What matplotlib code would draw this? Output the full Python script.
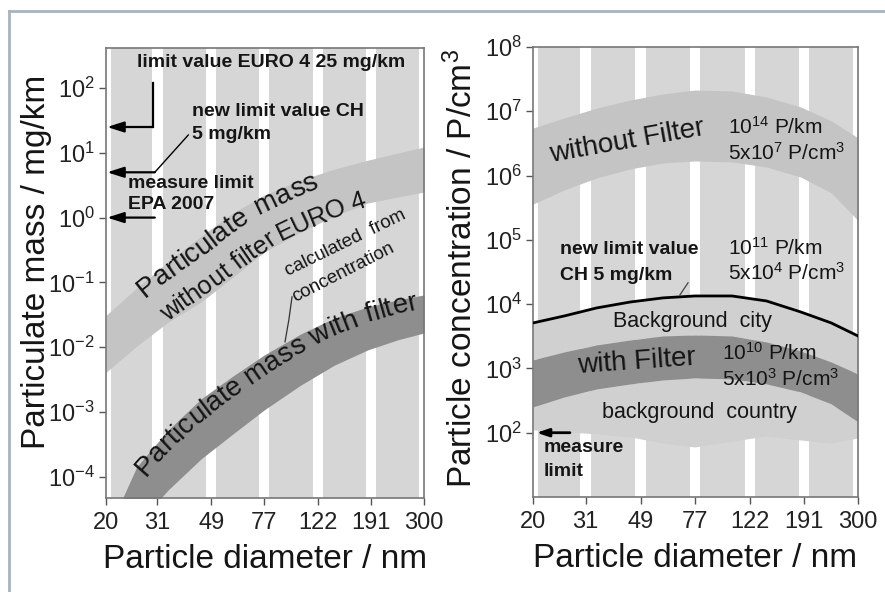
import numpy as np
import matplotlib
matplotlib.use('Agg')
import matplotlib.pyplot as plt
from matplotlib.lines import Line2D
from matplotlib.ticker import NullLocator
from matplotlib.font_manager import FontProperties

plt.rcParams['font.family'] = ['Liberation Sans', 'DejaVu Sans']
plt.rcParams['mathtext.fontset'] = 'custom'
plt.rcParams['mathtext.rm'] = 'Liberation Sans'
plt.rcParams['mathtext.it'] = 'Liberation Sans:italic'
plt.rcParams['mathtext.bf'] = 'Liberation Sans:bold'

# particle diameter (nm)
diam_ticks = [20, 31, 49, 77, 122, 191, 300]
diam = [20, 26, 34, 45, 59, 77, 105, 140, 186, 240, 300]

# left panel: particulate mass, mg/km
mass_nofilter_hi = [0.031, 0.082, 0.21, 0.52, 1.18, 2.23, 3.8, 5.6, 7.7, 9.9, 12.3]
mass_nofilter_lo = [0.0041, 0.0104, 0.0245, 0.050, 0.121, 0.294, 0.60, 1.06, 1.68, 2.08, 2.48]
mass_filter_hi = [1.27e-5, 1.43e-4, 5.3e-4, 1.6e-3, 3.6e-3, 7.6e-3, 0.016, 0.0283, 0.0419, 0.0537, 0.0641]
mass_filter_lo = [2.2e-6, 1.8e-5, 6.3e-5, 1.9e-4, 4.6e-4, 1.08e-3, 2.6e-3, 5.3e-3, 9.1e-3, 0.013, 0.0166]
mass_limits = [25, 5, 1]  # EURO 4, new CH limit, EPA 2007 measure limit
mass_ticks = [1e-4, 1e-3, 1e-2, 1e-1, 1, 10, 100]

# right panel: particle concentration, P/cm3
conc_nofilter_hi = [5.5e6, 7.9e6, 1.12e7, 1.5e7, 1.86e7, 2.14e7, 2.07e7, 1.67e7, 1.17e7, 7.1e6, 3.85e6]
conc_nofilter_lo = [3.6e5, 6.0e5, 9.2e5, 1.27e6, 1.57e6, 1.69e6, 1.63e6, 1.36e6, 9.5e5, 5.4e5, 2.0e5]
conc_city = [5100, 6560, 8730, 10800, 12500, 13400, 13400, 11200, 7570, 5100, 3200]
conc_filter_hi = [1360, 1810, 2320, 2770, 3200, 3320, 3200, 2580, 1870, 1260, 820]
conc_filter_lo = [252, 361, 480, 574, 662, 711, 687, 574, 431, 281, 147]
conc_country = [111, 103, 96, 86, 69, 60, 74, 89, 77, 69, 83]
conc_measure_limit = 100
conc_ticks = [1e2, 1e3, 1e4, 1e5, 1e6, 1e7, 1e8]

BAR = '#d6d6d6'
LIGHT = '#c4c4c4'
DARK = '#8e8e8e'
FILL = '#d0d0d0'
INK = '#151515'

fig = plt.figure(figsize=(8.85, 5.92), dpi=100)
ax_m = fig.add_axes([106 / 885, 1 - 498 / 592, 318 / 885, 450 / 592])
ax_c = fig.add_axes([533 / 885, 1 - 497 / 592, 325 / 885, 450 / 592])


def style_axes(ax, yticks, ylim):
    ax.set_xscale('log')
    ax.set_yscale('log')
    ax.set_xlim(diam_ticks[0], diam_ticks[-1])
    ax.set_ylim(*ylim)
    ax.set_facecolor(BAR)
    for t in diam_ticks:
        ax.axvspan(t * 10 ** -0.019, t * 10 ** 0.019, color='white', lw=0, zorder=0.5)
    ax.set_xticks(diam_ticks, labels=[str(t) for t in diam_ticks])
    ax.set_yticks(yticks)
    ax.xaxis.set_minor_locator(NullLocator())
    ax.yaxis.set_minor_locator(NullLocator())
    ax.tick_params(axis='both', direction='out', length=5, width=1, color='#555555',
                   labelsize=17, labelcolor='#222222')
    ax.tick_params(axis='x', pad=5)
    ax.tick_params(axis='y', pad=3)
    for sp in ax.spines.values():
        sp.set_color('#777777')
        sp.set_linewidth(1.2)
    ax.set_xlabel('Particle diameter / nm', fontsize=24, color=INK)
    ax.xaxis.set_label_coords(0.5, -0.102)


style_axes(ax_m, mass_ticks, (10 ** -4.327, 10 ** 2.617))
style_axes(ax_c, conc_ticks, (1e1, 1e8))

ax_m.set_ylabel('Particulate mass / mg/km', fontsize=24, color=INK)
ax_m.yaxis.set_label_coords(-0.17, 0.524)
ax_c.set_ylabel('Particle concentration / P/cm$^3$', fontsize=24, color=INK)
ax_c.yaxis.set_label_coords(-0.165, 0.507)

# --- left panel bands
ax_m.fill_between(diam, mass_nofilter_lo, mass_nofilter_hi, color=LIGHT, lw=0, zorder=2)
ax_m.fill_between(diam, mass_filter_lo, mass_filter_hi, color=DARK, lw=0, zorder=2)

# --- right panel bands
ax_c.fill_between(diam, conc_nofilter_lo, conc_nofilter_hi, color=LIGHT, lw=0, zorder=2)
ax_c.fill_between(diam, conc_filter_hi, conc_city, color=FILL, lw=0, zorder=2)
ax_c.fill_between(diam, conc_country, conc_filter_lo, color=FILL, lw=0, zorder=2)
ax_c.fill_between(diam, conc_filter_lo, conc_filter_hi, color=DARK, lw=0, zorder=2)
ax_c.plot(diam, conc_city, color='black', lw=2, zorder=3)

# --- left annotations (arrows to the mass axis)
arrow = dict(arrowstyle='-|>,head_length=1.0,head_width=0.32', color='black', lw=1.6,
             shrinkA=0, shrinkB=0, mutation_scale=10)
ax_m.plot([29.8, 29.8], [119, mass_limits[0]], color='black', lw=1.6, zorder=4)
ax_m.annotate('', xy=(20.2, mass_limits[0]), xytext=(29.8, mass_limits[0]), arrowprops=arrow, zorder=4)
ax_m.plot([40.3, 30.3], [18.8, mass_limits[1]], color='black', lw=1.0, zorder=4)
ax_m.annotate('', xy=(20.2, mass_limits[1]), xytext=(30.3, mass_limits[1]), arrowprops=arrow, zorder=4)
ax_m.annotate('', xy=(20.2, mass_limits[2]), xytext=(30.3, mass_limits[2]), arrowprops=arrow, zorder=4)

bold = dict(fontsize=14, fontweight='bold', color=INK, ha='left', va='center',
            transform=ax_m.transAxes, zorder=5)
ax_m.text(0.097, 0.967, 'limit value EURO 4 25 mg/km', **bold)
ax_m.text(0.270, 0.858, 'new limit value CH', **bold)
ax_m.text(0.270, 0.807, '5 mg/km', **bold)
ax_m.text(0.069, 0.700, 'measure limit', **bold)
ax_m.text(0.069, 0.653, 'EPA 2007', **bold)

small = dict(fontsize=13.5, color=INK, ha='center', va='center', rotation_mode='anchor',
             transform=ax_m.transAxes, zorder=5)
ax_m.text(0.752, 0.567, 'calculated  from', rotation=26, **small)
ax_m.text(0.746, 0.502, 'concentration', rotation=27, **small)
ax_m.plot([0.585, 0.575, 0.563], [0.447, 0.396, 0.347], color='#333333', lw=0.9,
          transform=ax_m.transAxes, zorder=4)

# --- right annotations
ax_c.annotate('', xy=(20.6, conc_measure_limit), xytext=(27.2, conc_measure_limit),
              arrowprops=dict(arrowstyle='-|>,head_length=0.9,head_width=0.3', color='black',
                              lw=2, shrinkA=0, shrinkB=0, mutation_scale=8), zorder=4)
rb = dict(bold, transform=ax_c.transAxes)
ax_c.text(0.083, 0.549, 'new limit value', **rb)
ax_c.text(0.083, 0.493, 'CH 5 mg/km', **rb)
ax_c.text(0.034, 0.109, 'measure', **rb)
ax_c.text(0.034, 0.056, 'limit', **rb)
ax_c.plot([0.477, 0.452], [0.476, 0.449], color='#444444', lw=0.9,
          transform=ax_c.transAxes, zorder=4)

rt = dict(fontsize=15, color=INK, ha='left', va='center', transform=ax_c.transAxes, zorder=5)
ax_c.text(0.600, 0.822, '10$^{14}$ P/km', **rt)
ax_c.text(0.600, 0.765, '5x10$^{7}$ P/cm$^{3}$', **rt)
ax_c.text(0.600, 0.553, '10$^{11}$ P/km', **rt)
ax_c.text(0.600, 0.498, '5x10$^{4}$ P/cm$^{3}$', **rt)
ax_c.text(0.582, 0.320, '10$^{10}$ P/km', **rt)
ax_c.text(0.582, 0.262, '5x10$^{3}$ P/cm$^{3}$', **rt)

mid = dict(color=INK, ha='center', va='center', rotation_mode='anchor',
           transform=ax_c.transAxes, zorder=5)
ax_c.text(0.492, 0.389, 'Background  city', fontsize=15.5, **mid)
ax_c.text(0.513, 0.187, 'background  country', fontsize=15.5, **mid)
ax_c.text(0.320, 0.300, 'with Filter', fontsize=20, rotation=4, **mid)
ax_c.text(0.289, 0.790, 'without Filter', fontsize=20, rotation=10, **mid)


def text_along(ax, xs, lo, hi, s, x0, offset, size):
    """Write s letter by letter along the middle of a band, shifted by offset pixels."""
    yc = np.sqrt(np.asarray(lo) * np.asarray(hi))
    pts = ax.transData.transform(np.column_stack([xs, yc]))
    arc = np.concatenate([[0], np.cumsum(np.hypot(*np.diff(pts, axis=0).T))])
    pos = np.interp(ax.transData.transform((x0, 1))[0], pts[:, 0], arc)
    rend = fig.canvas.get_renderer()
    prop = FontProperties(family='Liberation Sans', size=size)

    def width(t):
        return rend.get_text_width_height_descent(t, prop, ismath=False)[0]

    base = width('nn')
    lift = offset - 0.36 * size * fig.dpi / 72
    inv = fig.transFigure.inverted()
    for ch in s:
        w = width('n' + ch + 'n') - base
        c = pos + w / 2
        x, y = np.interp(c, arc, pts[:, 0]), np.interp(c, arc, pts[:, 1])
        dx = np.interp(c + 4, arc, pts[:, 0]) - np.interp(c - 4, arc, pts[:, 0])
        dy = np.interp(c + 4, arc, pts[:, 1]) - np.interp(c - 4, arc, pts[:, 1])
        ang = np.arctan2(dy, dx)
        fx, fy = inv.transform((x - np.sin(ang) * lift, y + np.cos(ang) * lift))
        fig.text(fx, fy, ch, rotation=np.degrees(ang), rotation_mode='anchor',
                 ha='center', va='baseline', fontsize=size, color=INK, zorder=5)
        pos += w


text_along(ax_m, diam, mass_nofilter_lo, mass_nofilter_hi, 'Particulate mass', 29.3, 20, 20)
text_along(ax_m, diam, mass_nofilter_lo, mass_nofilter_hi, 'without filter EURO 4', 29.9, -14, 18.5)
text_along(ax_m, diam, mass_filter_lo, mass_filter_hi, 'Particulate mass with filter', 29.1, 16, 20)

# outer frame of the figure
fig.add_artist(Line2D([9 / 885, 1], [1 - 11 / 592] * 2, transform=fig.transFigure,
                      color='#a6b4c2', lw=2))
fig.add_artist(Line2D([9 / 885] * 2, [0, 1 - 11 / 592], transform=fig.transFigure,
                      color='#a6b4c2', lw=2))

fig.savefig('out.png', dpi=100)
